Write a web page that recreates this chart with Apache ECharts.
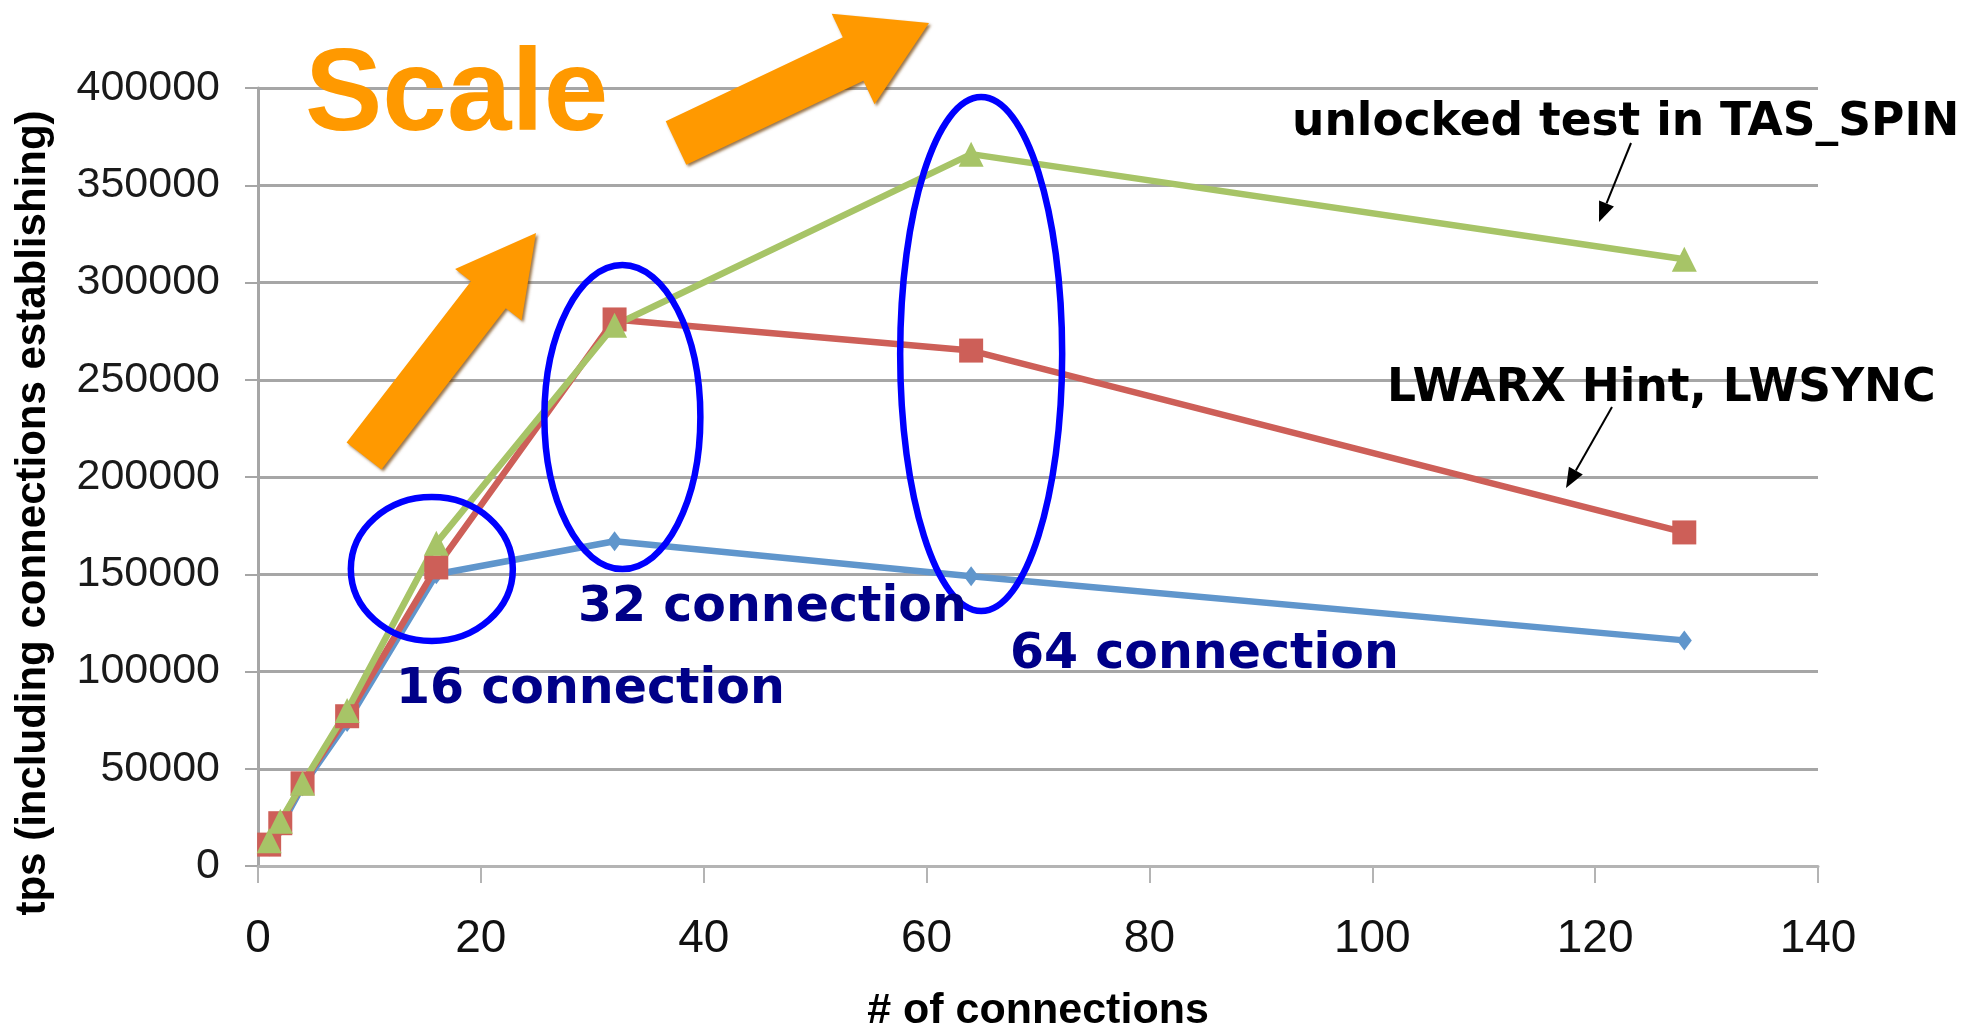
<!DOCTYPE html>
<html>
<head>
<meta charset="utf-8">
<script src="https://cdn.jsdelivr.net/npm/echarts@6/dist/echarts.min.js"></script>
<style>
  html, body { margin: 0; padding: 0; background: #fff; }
  #chart { width: 1982px; height: 1023px; }
</style>
</head>
<body>
<div id="chart"></div>
<script>
// Connection counts and throughput (tps) for the three spinlock variants
const connections = [1, 2, 4, 8, 16, 32, 64, 128];
const baseline    = [10000, 20000, 41000, 74000, 150000, 167000, 149000, 116000];
const lwarxHint   = [11000, 22000, 42500, 77000, 153500, 281000, 265000, 171500];
const unlockedTas = [13000, 23000, 42500, 80000, 166000, 278000, 366000, 312000];

const xTicks = [0, 20, 40, 60, 80, 100, 120, 140];
const yTicks = [0, 50000, 100000, 150000, 200000, 250000, 300000, 350000, 400000];
const xTitle = '# of connections';
const yTitle = 'tps (including connections establishing)';

const pairs = ys => connections.map((x, i) => [x, ys[i]]);

const chart = echarts.init(document.getElementById('chart'), null, { renderer: 'canvas' });

const lineSeries = (name, ys, color, symbol, size) => ({
  name, type: 'line', data: pairs(ys),
  symbol, symbolSize: size,
  lineStyle: { color, width: 6.5 },
  itemStyle: { color },
  z: 3
});

const sans = "'Liberation Sans', Arial, sans-serif";

chart.setOption({
  animation: false,
  backgroundColor: '#ffffff',
  grid: { left: 258, right: 164, top: 88, bottom: 157, containLabel: false, outerBoundsMode: 'none' },
  xAxis: {
    type: 'value', min: xTicks[0], max: xTicks[xTicks.length - 1], interval: 20,
    name: xTitle, nameLocation: 'middle', nameGap: 124,
    nameTextStyle: { fontFamily: sans, fontWeight: 'bold', fontSize: 43, color: '#000' },
    axisLine: { lineStyle: { color: '#b4b4b4', width: 3 } },
    axisTick: { show: true, length: 17, lineStyle: { color: '#b4b4b4', width: 2 } },
    axisLabel: { margin: 50, fontFamily: sans, fontSize: 46, color: '#111' },
    splitLine: { show: false }
  },
  yAxis: {
    type: 'value', min: yTicks[0], max: yTicks[yTicks.length - 1], interval: 50000,
    name: yTitle, nameLocation: 'middle', nameGap: 204,
    nameRotate: 90,
    nameTextStyle: { fontFamily: sans, fontWeight: 'bold', fontSize: 42, color: '#000', padding: [0, 72, 0, 0] },
    axisLine: { show: true, lineStyle: { color: '#a6a6a6', width: 3 } },
    axisTick: { show: true, length: 13, lineStyle: { color: '#a6a6a6', width: 2 } },
    axisLabel: { margin: 38, fontFamily: sans, fontSize: 43, color: '#1a1a1a', formatter: v => String(v) },
    splitLine: { show: true, lineStyle: { color: '#a6a6a6', width: 3 } }
  },
  series: [
    lineSeries('baseline', baseline, '#6096cc', 'diamond', [15, 20]),
    lineSeries('LWARX Hint, LWSYNC', lwarxHint, '#cd5f58', 'rect', 24),
    lineSeries('unlocked test in TAS_SPIN', unlockedTas, '#a7c467', 'triangle', 25)
  ]
});

// Decorative block arrows pointing up-right ("Scale")
function blockArrow(tail, tip, bodyHalf, headHalf, headLen) {
  const dx = tip[0] - tail[0], dy = tip[1] - tail[1];
  const len = Math.hypot(dx, dy);
  const ux = dx / len, uy = dy / len, nx = -uy, ny = ux;
  const bx = tip[0] - ux * headLen, by = tip[1] - uy * headLen;
  return [
    [tail[0] + nx * bodyHalf, tail[1] + ny * bodyHalf],
    [bx + nx * bodyHalf, by + ny * bodyHalf],
    [bx + nx * headHalf, by + ny * headHalf],
    tip,
    [bx - nx * headHalf, by - ny * headHalf],
    [bx - nx * bodyHalf, by - ny * bodyHalf],
    [tail[0] - nx * bodyHalf, tail[1] - ny * bodyHalf]
  ];
}

const orange = '#ff9900';
const arrowStyle = { fill: orange, shadowBlur: 3, shadowOffsetX: 2, shadowOffsetY: 2, shadowColor: 'rgba(110,60,0,0.7)' };

function ellipseAt(cx, cy, rx, ry) {
  const p = chart.convertToPixel({ gridIndex: 0 }, [cx, cy]);
  return {
    type: 'ellipse', shape: { cx: p[0], cy: p[1], rx, ry },
    style: { fill: 'none', stroke: '#0000ff', lineWidth: 6.5 }, z: 10
  };
}

const noteFont = "'DejaVu Sans', Verdana, sans-serif";
function note(text, x, y, color, size) {
  return {
    type: 'text', left: x, top: y, z: 12,
    style: { text, fill: color, font: `bold ${size}px ${noteFont}` }
  };
}

function pointer(x1, y1, x2, y2) {
  const a = Math.atan2(y2 - y1, x2 - x1), h = 20, w = 8;
  const bx = x2 - Math.cos(a) * h, by = y2 - Math.sin(a) * h;
  return [
    { type: 'line', shape: { x1, y1, x2: bx, y2: by }, style: { stroke: '#000', lineWidth: 2 }, z: 12 },
    { type: 'polygon', shape: { points: [[x2, y2], [bx - Math.sin(a) * w, by + Math.cos(a) * w], [bx + Math.sin(a) * w, by - Math.cos(a) * w]] }, style: { fill: '#000' }, z: 12 }
  ];
}

chart.setOption({
  graphic: [
    { type: 'text', left: 305, top: 40, z: 12,
      style: { text: 'Scale', fill: orange, font: `bold 116px ${sans}` } },
    { type: 'polygon', shape: { points: blockArrow([364, 456], [536, 233], 22, 42, 78) }, style: arrowStyle, z: 11 },
    { type: 'polygon', shape: { points: blockArrow([676, 143], [929, 23], 24, 50, 84) }, style: arrowStyle, z: 11 },
    ellipseAt(15.6, 152700, 81, 72),
    ellipseAt(32.7, 230800, 78, 152),
    ellipseAt(64.9, 263200, 81, 257),
    note('16 connection', 396, 666, '#000088', 49),
    note('32 connection', 578, 584, '#000088', 49),
    note('64 connection', 1010, 631, '#000088', 49),
    note('unlocked test in TAS_SPIN', 1292, 100, '#000', 45.5),
    note('LWARX Hint, LWSYNC', 1387, 366, '#000', 45.5),
    ...pointer(1631, 143, 1599, 222),
    ...pointer(1612, 407, 1566, 488)
  ]
});
</script>
</body>
</html>
